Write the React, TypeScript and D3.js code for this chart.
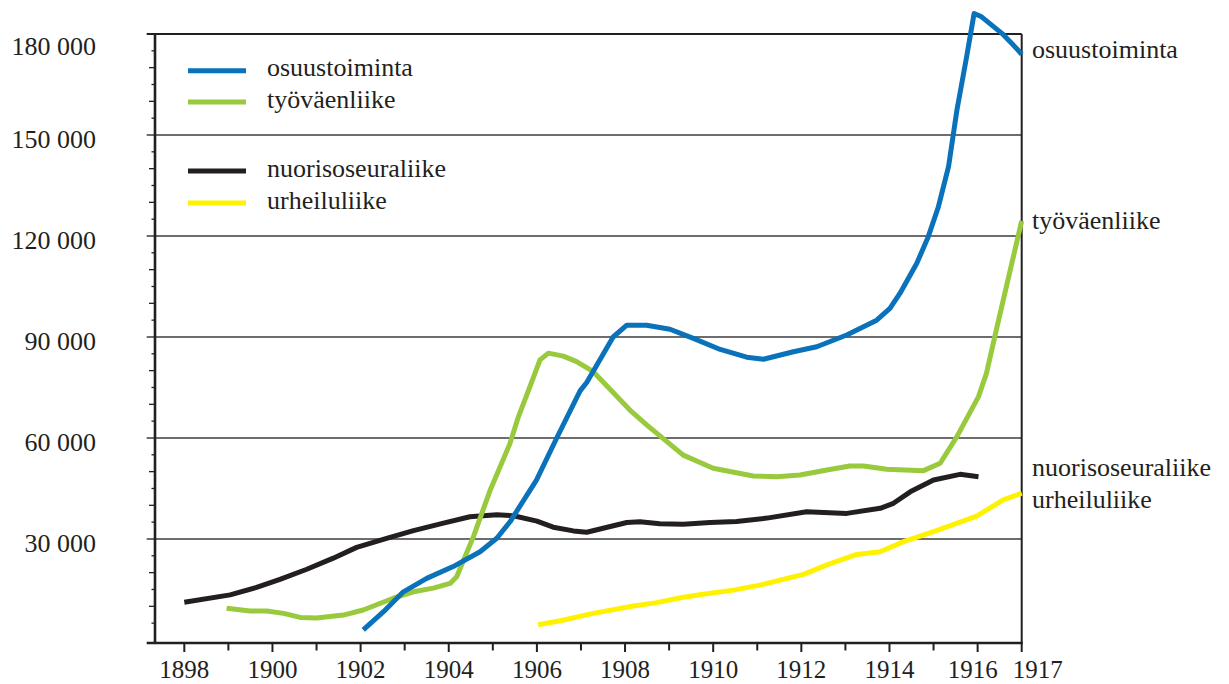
import React from "react";
import * as d3 from "d3";

// ---- data ----
const osuusYears = [1902.06, 1902.52, 1902.97, 1903.5, 1904.1, 1904.71, 1905.09, 1905.39, 1905.99, 1906.45, 1906.98, 1907.13, 1907.73, 1908.04, 1908.49, 1909.02, 1909.55, 1910.16, 1910.76, 1911.14, 1911.82, 1912.35, 1913.03, 1913.71, 1914.01, 1914.24, 1914.62, 1914.88, 1915.11, 1915.34, 1915.53, 1915.75, 1915.92, 1916.09, 1916.55, 1916.81, 1917.0];
const osuusValues = [3000, 8400, 14300, 18300, 21800, 26200, 30200, 35100, 47500, 60000, 74000, 76500, 90000, 93500, 93500, 92300, 89600, 86300, 84000, 83400, 85600, 87100, 90600, 95000, 98500, 103000, 111900, 119800, 128700, 140600, 157400, 173200, 186100, 185100, 180200, 176700, 174000];

const tyoYears = [1898.96, 1899.49, 1899.87, 1900.25, 1900.63, 1901.0, 1901.61, 1902.06, 1902.74, 1903.2, 1903.65, 1904.03, 1904.18, 1904.56, 1904.94, 1905.39, 1905.58, 1905.84, 1906.07, 1906.26, 1906.6, 1906.9, 1907.28, 1908.11, 1908.49, 1909.32, 1910.0, 1910.91, 1911.44, 1911.97, 1912.58, 1913.1, 1913.41, 1913.94, 1914.77, 1915.15, 1915.53, 1916.02, 1916.2, 1916.44, 1917.0];
const tyoValues = [9400, 8600, 8600, 7900, 6700, 6500, 7400, 8900, 12400, 14300, 15400, 16800, 18800, 30700, 44500, 58400, 66300, 75200, 83200, 85200, 84300, 82700, 79700, 68300, 63900, 54900, 51000, 48700, 48500, 49000, 50500, 51700, 51700, 50700, 50300, 52500, 60400, 72300, 79200, 93000, 124500];

const nuoriYears = [1898.0, 1899.04, 1899.64, 1900.17, 1900.78, 1901.38, 1901.91, 1902.59, 1903.2, 1903.88, 1904.48, 1905.09, 1905.47, 1906.0, 1906.37, 1906.83, 1907.13, 1908.04, 1908.34, 1908.79, 1909.32, 1909.93, 1910.53, 1911.22, 1912.12, 1913.03, 1913.79, 1914.09, 1914.47, 1915.0, 1915.6, 1916.02];
const nuoriValues = [11200, 13400, 15600, 18000, 21000, 24300, 27500, 30200, 32500, 34700, 36600, 37200, 36900, 35300, 33500, 32400, 32000, 34900, 35100, 34500, 34400, 34900, 35200, 36200, 38100, 37600, 39100, 40600, 44000, 47500, 49200, 48500];

const urheiluYears = [1906.03, 1906.53, 1907.28, 1908.19, 1908.72, 1909.32, 1909.85, 1910.46, 1911.06, 1912.05, 1912.58, 1913.26, 1913.79, 1914.32, 1915.0, 1915.98, 1916.58, 1917.0];
const urheiluValues = [4500, 5700, 7900, 10100, 11100, 12700, 13700, 14800, 16300, 19500, 22300, 25400, 26200, 29200, 32200, 36800, 41600, 43600];

const seriesNames = ["osuustoiminta", "työväenliike", "nuorisoseuraliike", "urheiluliike"];
const seriesColors = ["#0a72ba", "#99c93c", "#231f20", "#fff200"];

const yTickValues = [30000, 60000, 90000, 120000, 150000, 180000];
const yGridValues = [30000, 60000, 90000, 120000, 150000];
const xLabelYears = [1898, 1900, 1902, 1904, 1906, 1908, 1910, 1912, 1914, 1916, 1917];

const fmt = (v: number) => d3.format(",")(v).replace(/,/g, " ");

const FONT = '"Liberation Serif", "DejaVu Serif", serif';

export default function App() {
  const W = 1229, H = 684;
  const left = 155, right = 1021.7, top = 34, bottom = 643;
  const x = d3.scaleLinear().domain([1897.335, 1917]).range([left, right]);
  const y = d3.scaleLinear().domain([-900, 180000]).range([bottom, top]);
  const textColor = "#231f20";
  const txtStyle: React.CSSProperties = { fontFamily: FONT };

  const series = [
    { years: urheiluYears, values: urheiluValues, idx: 3 },
    { years: nuoriYears, values: nuoriValues, idx: 2 },
    { years: tyoYears, values: tyoValues, idx: 1 },
    { years: osuusYears, values: osuusValues, idx: 0 },
  ];

  const line = d3
    .line<[number, number]>()
    .x((d) => x(d[0]))
    .y((d) => y(d[1]))
    .curve(d3.curveLinear);

  const minor5 = d3.range(5000, 180000, 5000);
  const yearTicks = d3.range(1898, 1918, 1);

  const legendRows = [
    { idx: 0, ly: 70.7 },
    { idx: 1, ly: 102 },
    { idx: 2, ly: 171 },
    { idx: 3, ly: 203 },
  ];

  const endLabels = [
    { idx: 0, by: y(osuusValues[osuusValues.length - 1]) + 4 },
    { idx: 1, by: y(tyoValues[tyoValues.length - 1]) + 8 },
    { idx: 2, by: 476 },
    { idx: 3, by: 508 },
  ];

  return (
    <svg
      width={W}
      height={H}
      style={{ position: "absolute", left: 0, top: 0, background: "#fff", fontFamily: FONT }}
    >
      <rect x={0} y={0} width={W} height={H} fill="#fff" />
      {yGridValues.map((v) => (
        <line key={"g" + v} x1={146.7} x2={right} y1={y(v)} y2={y(v)} stroke="#3c3c3c" strokeWidth={1.4} />
      ))}
      {minor5
        .filter((v) => v % 30000 !== 0)
        .map((v) => (
          <line
            key={"m" + v}
            x1={v % 10000 === 0 ? 149 : 151.5}
            x2={left}
            y1={y(v)}
            y2={y(v)}
            stroke="#231f20"
            strokeWidth={1.3}
          />
        ))}
      <line x1={146.7} x2={right} y1={top} y2={top} stroke="#231f20" strokeWidth={2.2} />
      <line x1={right} x2={right} y1={top} y2={bottom} stroke="#231f20" strokeWidth={2} />
      <line x1={left} x2={left} y1={top - 1} y2={bottom} stroke="#231f20" strokeWidth={2.6} />
      <line x1={146.7} x2={right + 1} y1={bottom} y2={bottom} stroke="#231f20" strokeWidth={2.6} />
      {yearTicks.map((yr) => (
        <line
          key={"xt" + yr}
          x1={x(yr)}
          x2={x(yr)}
          y1={bottom}
          y2={bottom + (yr % 2 === 0 || yr === 1917 ? 9 : 7.5)}
          stroke="#231f20"
          strokeWidth={2}
        />
      ))}
      {xLabelYears.map((yr) => (
        <text
          key={"xl" + yr}
          x={yr === 1917 ? x(yr) - 9 : yr === 1916 ? x(yr) - 5 : x(yr)}
          y={678}
          textAnchor={yr === 1917 ? "start" : "middle"}
          style={txtStyle}
          fontSize={25}
          fill={textColor}
        >
          {yr}
        </text>
      ))}
      {yTickValues.map((v) => (
        <text
          key={"yl" + v}
          x={96}
          y={y(v) + (v === 180000 ? 21 : 13)}
          textAnchor="end"
          style={txtStyle}
          fontSize={26}
          fill={textColor}
        >
          {fmt(v)}
        </text>
      ))}
      {series.map((s) => (
        <path
          key={"s" + s.idx}
          d={line(s.years.map((yr, i) => [yr, s.values[i]] as [number, number])) || ""}
          fill="none"
          stroke={seriesColors[s.idx]}
          strokeWidth={5}
          strokeLinejoin="round"
          strokeLinecap="butt"
        />
      ))}
      {legendRows.map((r) => (
        <g key={"lg" + r.idx}>
          <line x1={188} x2={246} y1={r.ly} y2={r.ly} stroke={seriesColors[r.idx]} strokeWidth={5} />
          <text x={267} y={r.ly + 5.5} style={txtStyle} fontSize={26} fill={textColor}>
            {seriesNames[r.idx]}
          </text>
        </g>
      ))}
      {endLabels.map((l) => (
        <text key={"el" + l.idx} x={1032} y={l.by} style={txtStyle} fontSize={26} fill={textColor}>
          {seriesNames[l.idx]}
        </text>
      ))}
    </svg>
  );
}
